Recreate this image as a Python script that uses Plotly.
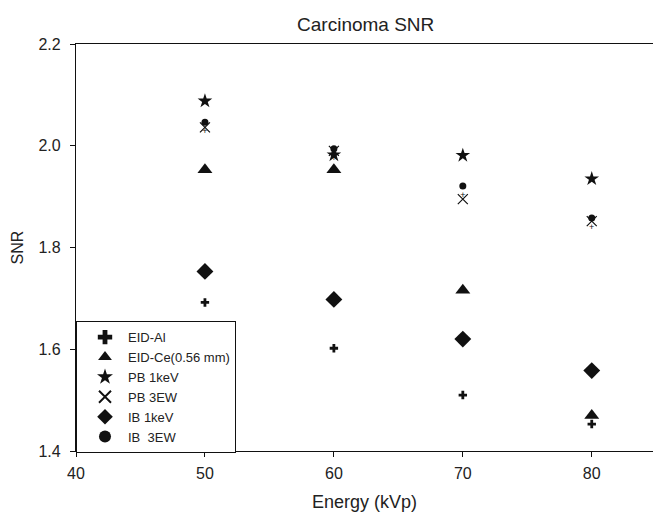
import plotly.graph_objects as go

energy = [50, 60, 70, 80]
eid_al = [1.692, 1.602, 1.510, 1.453]
eid_ce = [1.953, 1.953, 1.716, 1.470]
pb_1kev = [2.088, 1.982, 1.981, 1.935]
pb_3ew = [2.036, 1.990, 1.895, 1.852]
ib_1kev = [1.753, 1.698, 1.620, 1.558]
ib_3ew = [2.046, 1.994, 1.921, 1.858]

BLACK = "#111111"
FONT = "Liberation Sans, Arial, sans-serif"

fig = go.Figure()

def add(name, y, symbol, size, open_line=False):
    marker = dict(symbol=symbol, size=size, color=BLACK)
    if open_line:
        marker["line"] = dict(color=BLACK, width=1.2)
    else:
        marker["line"] = dict(width=0)
    fig.add_trace(go.Scatter(x=energy, y=y, mode="markers", name=name, marker=marker))

add("EID-Al", eid_al, "cross", 7)
add("EID-Ce(0.56 mm)", eid_ce, "triangle-up", 13)
add("PB 1keV", pb_1kev, "star", 11)
add("PB 3EW", pb_3ew, "x-thin-open", 10, open_line=True)
add("IB 1keV", ib_1kev, "diamond", 13)

# IB 3EW: filled circle with small plus below
fig.add_trace(go.Scatter(x=energy, y=ib_3ew, mode="markers+text", name="IB  3EW",
                         legendgroup="ib3", showlegend=False,
                         marker=dict(symbol="circle", size=7, color=BLACK),
                         text=["+"] * len(energy), textposition="bottom center",
                         textfont=dict(size=9, color=BLACK, family=FONT)))
fig.add_trace(go.Scatter(x=[None], y=[None], mode="markers", name="IB  3EW",
                         legendgroup="ib3",
                         marker=dict(symbol="circle", size=7, color=BLACK)))

fig.update_layout(
    width=653, height=512,
    margin=dict(l=76, r=0, t=44, b=61),
    paper_bgcolor="white", plot_bgcolor="white",
    font=dict(family=FONT, color="#222222", size=16),
    title=dict(text="Carcinoma SNR", x=0.56, xanchor="center", y=0.952, yanchor="middle",
               font=dict(size=19, family=FONT, color="#222222")),
    showlegend=True,
    legend=dict(x=0.0, y=0.319, xanchor="left", yanchor="top",
                bgcolor="white", bordercolor=BLACK, borderwidth=1,
                font=dict(size=13, family=FONT, color="#222222"),
                tracegroupgap=0, itemsizing="constant",
                indentation=5, itemwidth=36),
    xaxis=dict(range=[40, 84.75], tickvals=[40, 50, 60, 70, 80], ticks="outside",
               ticklen=5, tickcolor=BLACK, showline=True, linecolor=BLACK, linewidth=1.2,
               mirror=True, showgrid=False, zeroline=False, ticklabelstandoff=3,
               title=dict(text="Energy (kVp)", font=dict(size=18), standoff=14),
               tickfont=dict(size=16)),
    yaxis=dict(range=[1.4, 2.2], dtick=0.2, tick0=1.4, tickformat=".1f", ticks="outside",
               ticklen=5, tickcolor=BLACK, showline=True, linecolor=BLACK, linewidth=1.2,
               mirror=False, showgrid=False, zeroline=False, ticklabelstandoff=6,
               title=dict(text="SNR", font=dict(size=16), standoff=10),
               tickfont=dict(size=16)),
)

fig.write_html("out.html")
